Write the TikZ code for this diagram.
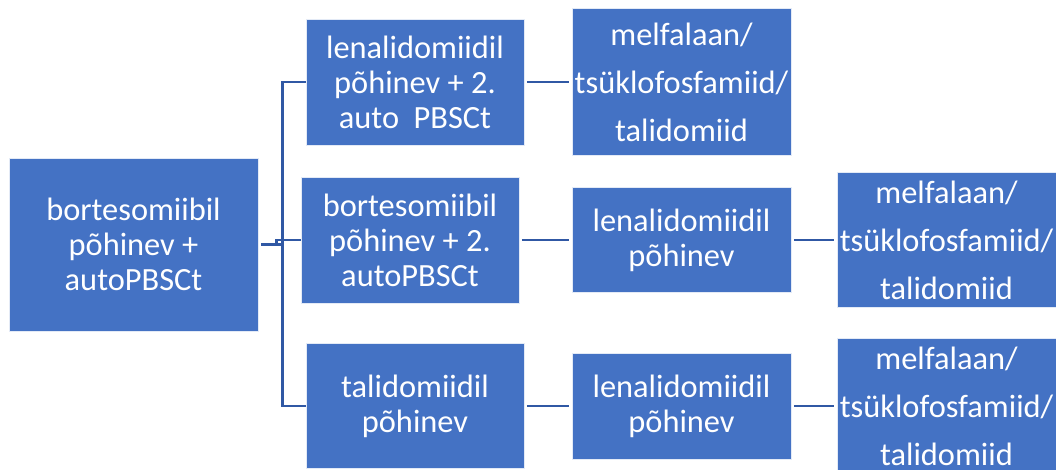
\documentclass[tikz,border=0pt]{standalone}
\usepackage{fontspec}
\setmainfont{Carlito}
\definecolor{boxblue}{HTML}{4472C4}
\definecolor{lineblue}{HTML}{3058A4}
\begin{document}
\begin{tikzpicture}[x=1pt,y=-1pt,
  box/.style={rectangle, fill=boxblue, draw=white!85!boxblue, line width=0.8pt,
    inner sep=0pt, align=center, text=white,
    font=\fontsize{32.4}{35}\selectfont},
  tallbox/.style={box, font=\fontsize{32.4}{48}\selectfont},
  link/.style={draw=lineblue, line width=2.8pt},
  gap/.style={shorten <=2.5pt, shorten >=2.5pt}]
\useasboundingbox (0,0) rectangle (1056,470);
% boxes
\node[box, minimum width=249pt, minimum height=173pt] (root) at (133.5,244.5)
  {bortesomiibil\\põhinev +\\autoPBSCt};
\node[box, minimum width=218pt, minimum height=126pt] (A1) at (415,82)
  {lenalidomiidil\\põhinev + 2.\\auto~ PBSCt};
\node[tallbox, minimum width=219pt, minimum height=147pt] (A2) at (681.5,82)
  {melfalaan/\\tsüklofosfamiid/\\talidomiid};
\node[box, minimum width=218pt, minimum height=126pt] (B1) at (410,240)
  {bortesomiibil\\põhinev + 2.\\autoPBSCt};
\node[box, minimum width=219pt, minimum height=105pt] (B2) at (681.5,240)
  {lenalidomiidil\\põhinev};
\node[tallbox, minimum width=219pt, minimum height=135pt] (B3) at (946.5,240)
  {melfalaan/\\tsüklofosfamiid/\\talidomiid};
\node[box, minimum width=218pt, minimum height=125pt] (C1) at (415,406)
  {talidomiidil\\põhinev};
\node[box, minimum width=219pt, minimum height=106pt] (C2) at (681.5,406)
  {lenalidomiidil\\põhinev};
\node[tallbox, minimum width=219pt, minimum height=136pt] (C3) at (946.5,406)
  {melfalaan/\\tsüklofosfamiid/\\talidomiid};
% spine
\coordinate (spine) at (282.5,244.5);
\draw[link] (A1.west) -- ++(-2,0) -- (A1.west -| spine) -- (C1.west -| spine) -- (C1.west);
\draw[link, shorten <=3pt] (root.east) -- (root.east -| spine);
\draw[link] (B1.west) -- ++(-24,0) -- ++(0,4.5);
% row links
\draw[link, gap] (A1.east) -- (A2.west);
\draw[link, gap] (B1.east) -- (B2.west);
\draw[link, gap] (B2.east) -- (B3.west);
\draw[link, gap] (C1.east) -- (C2.west);
\draw[link, gap] (C2.east) -- (C3.west);
\end{tikzpicture}
\end{document}
